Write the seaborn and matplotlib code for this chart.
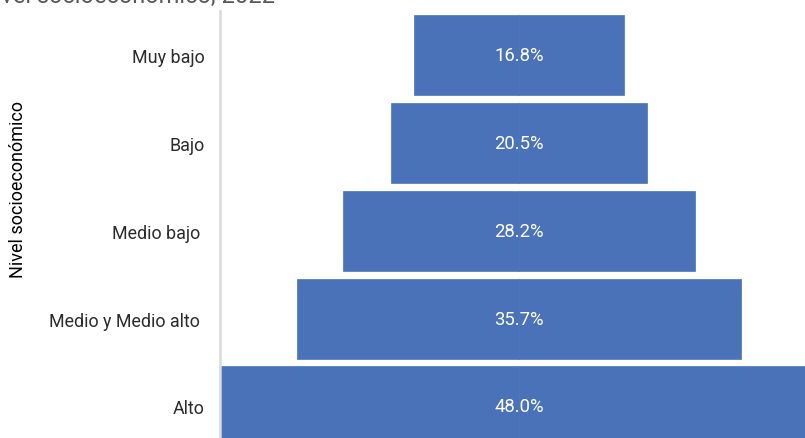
import matplotlib
matplotlib.use("Agg")
import matplotlib.pyplot as plt
import seaborn as sns
import pandas as pd

# Data
categorias = ["Muy bajo", "Bajo", "Medio bajo ", "Medio y Medio alto ", "Alto"]
porcentajes = [16.8, 20.5, 28.2, 35.7, 48.0]
titulo = "por nivel socioeconómico, 2022"
eje_y = "Nivel socioeconómico"

color_barra = "#4A72B8"

sns.set_theme(style="white")
plt.rcParams["font.family"] = ["Roboto", "DejaVu Sans"]

W, H = 805, 439
fig = plt.figure(figsize=(W / 100, H / 100), dpi=100)

# axes placed in pixel geometry (chart is cropped on right/bottom)
ax_left, ax_right = 220, 818
ax_top, ax_bottom = 12.4, 451.4
ax = fig.add_axes([ax_left / W, 1 - ax_bottom / H,
                   (ax_right - ax_left) / W, (ax_bottom - ax_top) / H])

df = pd.DataFrame({"cat": categorias, "val": porcentajes})
df["mitad_der"] = df["val"] / 2
df["mitad_izq"] = -df["val"] / 2

sns.barplot(data=df, x="mitad_der", y="cat", color=color_barra, saturation=1,
            width=0.915, ax=ax, edgecolor=color_barra, linewidth=0.5)
sns.barplot(data=df, x="mitad_izq", y="cat", color=color_barra, saturation=1,
            width=0.915, ax=ax, edgecolor=color_barra, linewidth=0.5)

ax.set_xlim(-24, 24)
ax.set_ylim(4.5, -0.5)

for i, v in enumerate(porcentajes):
    ax.text(0, i, f"{v:.1f}%", ha="center", va="center", color="white",
            fontsize=13.3, fontweight="normal")

ax.set_xticks([])
ax.set_xlabel("")
ax.set_ylabel("")
ax.tick_params(axis="y", length=0, pad=11, labelsize=12.9, labelcolor="#2b2b2b")

for s in ["top", "right", "bottom"]:
    ax.spines[s].set_visible(False)
ax.spines["left"].set_color("#d9d9d9")
ax.spines["left"].set_linewidth(1.8)

fig.text(18 / W, 1 - 189 / H, eje_y, rotation=90, ha="center", va="center",
         fontsize=13, color="black")

fig.text(275 / W, 1 - 3.5 / H, titulo, ha="right", va="baseline",
         fontsize=17, color="#595959")

fig.savefig("out.png", dpi=100)
